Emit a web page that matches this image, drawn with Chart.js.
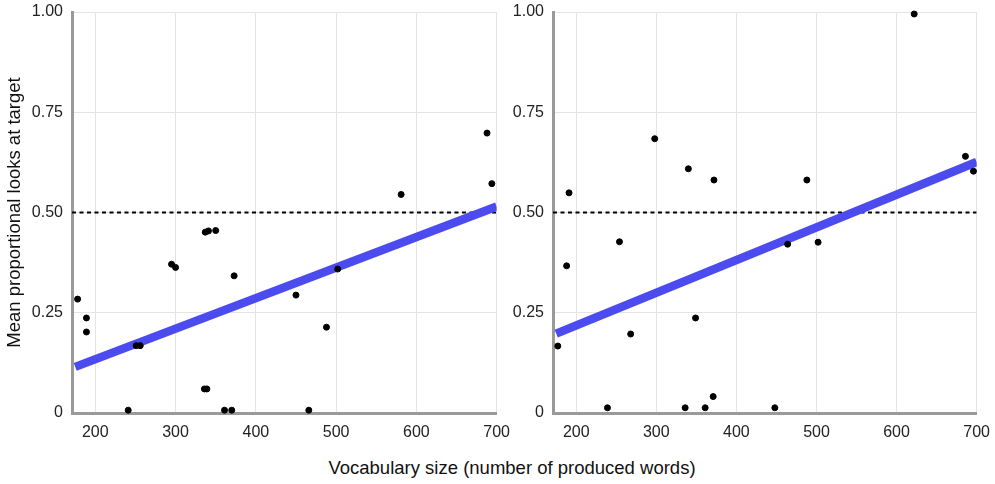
<!DOCTYPE html>
<html>
<head>
<meta charset="utf-8">
<script src="https://cdn.jsdelivr.net/npm/chart.js@4.4.0/dist/chart.umd.min.js"></script>
<style>
  html, body { margin: 0; padding: 0; background: #fff; overflow: hidden; }
  #wrap { position: relative; width: 995px; height: 484px; }
  #left { position: absolute; left: 0; top: 0; }
  #right { position: absolute; left: 500px; top: 0; }
  #xTitle {
    position: absolute; left: 0; width: 1024px; top: 457px; text-align: center;
    font-family: "Liberation Sans", Arial, sans-serif; font-size: 18.5px; color: #111;
  }
</style>
</head>
<body>
<div id="wrap">
  <canvas id="left" width="520" height="447"></canvas>
  <canvas id="right" width="500" height="447"></canvas>
  <div id="xTitle">Vocabulary size (number of produced words)</div>
</div>
<script>
// valores
const xTicks = [200, 300, 400, 500, 600, 700];
const yTicks = [0, 0.25, 0.5, 0.75, 1];

const vocabLeft = [178, 189, 189, 241, 251, 256, 295, 300, 336, 339, 337, 341, 350, 361, 370, 373, 450, 466, 488, 502, 581, 688, 694];
const looksLeft = [0.284, 0.237, 0.202, 0.007, 0.168, 0.168, 0.371, 0.363, 0.06, 0.06, 0.451, 0.454, 0.455, 0.007, 0.007, 0.342, 0.294, 0.007, 0.214, 0.359, 0.545, 0.698, 0.572];

const vocabRight = [177, 188, 191, 239, 254, 268, 298, 336, 340, 349, 361, 371, 372, 448, 464, 488, 502, 622, 686, 696];
const looksRight = [0.167, 0.367, 0.549, 0.013, 0.427, 0.197, 0.684, 0.013, 0.609, 0.237, 0.013, 0.041, 0.581, 0.013, 0.421, 0.581, 0.426, 0.995, 0.640, 0.603];

// linha de regressão (extremos) e linha do acaso
const fitX = [175, 700];
const fitLeftY = [0.115, 0.515];
const fitRightY = [0.198, 0.626];
const chanceX = [171, 700];
const chanceY = 0.5;

const fonte = '"Liberation Sans", Arial, sans-serif';

function pares(xs, ys) {
  return xs.map((x, i) => ({ x: x, y: ys[i] }));
}

function criarGrafico(id, vocab, looks, fitY, axisWidth, padRight, comTitulo) {
  return new Chart(document.getElementById(id), {
    type: 'scatter',
    data: {
      datasets: [
        {
          data: pares(vocab, looks),
          backgroundColor: '#000',
          borderColor: '#000',
          pointRadius: 3,
          pointHoverRadius: 3,
          clip: false
        },
        {
          type: 'line',
          data: pares(fitX, fitY),
          borderColor: '#4b4bef',
          borderWidth: 8.5,
          pointRadius: 0,
          borderCapStyle: 'butt'
        },
        {
          type: 'line',
          data: chanceX.map(x => ({ x: x, y: chanceY })),
          borderColor: '#000',
          borderWidth: 1.8,
          borderDash: [4, 3.5],
          pointRadius: 0
        }
      ]
    },
    options: {
      responsive: false,
      animation: false,
      devicePixelRatio: 1,
      layout: { padding: { top: 12, right: padRight, left: 0, bottom: 0 } },
      plugins: { legend: { display: false }, tooltip: { enabled: false } },
      scales: {
        x: {
          type: 'linear',
          min: 171,
          max: 700,
          afterBuildTicks: s => { s.ticks = xTicks.map(v => ({ value: v })); },
          afterFit: s => { s.height = 34; },
          grid: { color: '#e4e4e4', lineWidth: 1, drawTicks: false },
          border: { color: '#9a9a9a', width: 3 },
          ticks: {
            padding: 10,
            color: '#222',
            font: { family: fonte, size: 16 },
            maxRotation: 0
          }
        },
        y: {
          min: 0,
          max: 1,
          afterBuildTicks: s => { s.ticks = yTicks.map(v => ({ value: v })); },
          afterFit: s => { s.width = axisWidth; s.paddingTop = 0; s.paddingBottom = 0; },
          grid: { color: '#e4e4e4', lineWidth: 1, drawTicks: false },
          border: { color: '#9a9a9a', width: 3 },
          ticks: {
            padding: 9,
            color: '#222',
            font: { family: fonte, size: 16 },
            callback: v => v === 0 ? '0' : v.toFixed(2)
          },
          title: {
            display: comTitulo,
            text: 'Mean proportional looks at target',
            color: '#111',
            font: { family: fonte, size: 18.5 },
            padding: { top: 4, bottom: 0 }
          }
        }
      }
    }
  });
}

criarGrafico('left', vocabLeft, looksLeft, fitLeftY, 72, 19, true);
criarGrafico('right', vocabRight, looksRight, fitRightY, 53, 18, false);
</script>
</body>
</html>
